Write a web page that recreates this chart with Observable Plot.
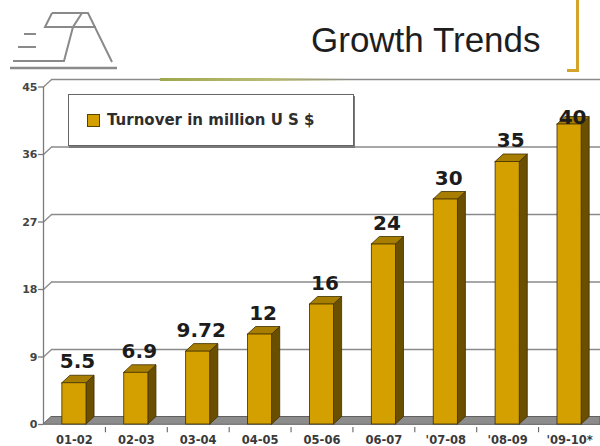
<!DOCTYPE html>
<html>
<head>
<meta charset="utf-8">
<script src="https://cdn.jsdelivr.net/npm/d3@7"></script>
<script src="https://cdn.jsdelivr.net/npm/@observablehq/plot@0.6"></script>
<style>
  html, body { margin: 0; padding: 0; background: #fff; }
  #wrap { position: relative; width: 600px; height: 446px; overflow: hidden; background: #fff; }
  #header { position: relative; width: 600px; height: 72px; }
  #title { position: absolute; left: 311px; top: 22px; font: 35px "Liberation Sans", Arial, sans-serif; color: #1e1e1e; line-height: 35px; white-space: nowrap; }
  #bracket { position: absolute; left: 567px; top: -4px; width: 9px; height: 73px; border-right: 3px solid #d3a32a; border-bottom: 3px solid #d3a32a; }
  #logo { position: absolute; left: 0; top: 0; }
  #greenline { position: absolute; left: 160px; top: 78px; width: 190px; height: 3px; background: linear-gradient(to right, #9da84c, #b8bb74 55%, rgba(190,190,150,0)); z-index: 3; }
  #legend { position: absolute; left: 68px; top: 94px; width: 284px; height: 50px; border: 1px solid #666; box-shadow: 1px 2px 0 #7a7a7a; background: #fff; z-index: 3; }
  #legend .sw { position: absolute; left: 18px; top: 19px; width: 11px; height: 11px; background: #d4a000; border: 1px solid #5a4200; }
  #legend .lt { position: absolute; left: 38px; top: 15px; font: bold 15px "DejaVu Sans", sans-serif; color: #2e2e2e; white-space: nowrap; line-height: 20px; }
  g[aria-label="value-labels"] text { letter-spacing: 0.5px; }
</style>
</head>
<body>
<div id="wrap">
  <div id="header">
    <svg id="logo" width="130" height="75" viewBox="0 0 130 75">
      <g fill="none" stroke="#8a8a8a" stroke-width="2" stroke-linejoin="miter">
        <path d="M52,13 L88,13 L112,62"/>
        <path d="M52,13 L45,27 L96,27"/>
        <path d="M82,13 L73,27 L64,61 L13,61"/>
        <path d="M24,34 L36,34"/>
        <path d="M18,47 L36,47"/>
      </g>
      <path d="M10,68 L117,68" stroke="#8a8a8a" stroke-width="2.5"/>
    </svg>
    <div id="title">Growth Trends</div>
    <div id="bracket"></div>
  </div>
  <div id="chart"></div>
  <div id="greenline"></div>
  <div id="legend"><div class="sw"></div><div class="lt" id="legendText"></div></div>
</div>
<script>
// ---- data ----
const categories = ["01-02", "02-03", "03-04", "04-05", "05-06", "06-07", "'07-08", "'08-09", "'09-10*"];
const turnover = [5.5, 6.9, 9.72, 12, 16, 24, 30, 35, 40];
const valueLabels = ["5.5", "6.9", "9.72", "12", "16", "24", "30", "35", "40"];
const yTicks = [0, 9, 18, 27, 36, 45];
const seriesName = "Turnover in million U S $";

// ---- style constants (3-D look) ----
const HALF = 0.195;     // half bar width, in category units
const DX = 0.13;        // depth offset in x (category units)
const DY = 1;           // depth offset in y (value units)
const LABEL_MAX = 40.1; // labels are kept inside the plot area
const GOLD = "#d4a000", SIDE = "#6b4f00", TOP = "#a87e00", EDGE = "#3d2d00";
const GRID = "#8a8a8a";

document.getElementById("legendText").textContent = seriesName;

const rows = categories.map((category, i) => ({category, i, value: turnover[i], label: valueLabels[i]}));
const sideFaces = rows.flatMap(d => [
  {i: d.i, x: d.i + HALF, y1: 0, y2: d.value},
  {i: d.i, x: d.i + HALF + DX, y1: DY, y2: d.value + DY}
]);
const topFaces = rows.flatMap(d => [
  {i: d.i, y: d.value, x1: d.i - HALF, x2: d.i + HALF},
  {i: d.i, y: d.value + DY, x1: d.i - HALF + DX, x2: d.i + HALF + DX}
]);
const xMin = -0.5, xMax = categories.length - 0.5;
const floor = [
  {y: 0, x1: xMin, x2: xMax},
  {y: DY, x1: xMin + DX, x2: xMax}
];
const boundaries = categories.slice(1).map((c, i) => i + 0.5);
const gridTicks = yTicks.filter(t => t > 0);

const plot = Plot.plot({
  width: 600,
  height: 374,
  marginLeft: 43,
  marginRight: 0,
  marginTop: 14.5,
  marginBottom: 22,
  x: {domain: [xMin, xMax], axis: null},
  y: {domain: [0, 45], axis: null},
  style: {background: "transparent", overflow: "visible", fontFamily: "DejaVu Sans"},
  marks: [
    // back-wall gridlines
    Plot.ruleY(gridTicks, {y: t => t + DY, x1: xMin + DX, x2: xMax, stroke: GRID, strokeWidth: 1.5}),
    // connectors from the axis to the back wall
    Plot.link(gridTicks, {x1: xMin, y1: t => t, x2: xMin + DX, y2: t => t + DY, stroke: GRID, strokeWidth: 1.3}),
    // floor
    Plot.areaX(floor, {y: "y", x1: "x1", x2: "x2", fill: "#8c8c8c", stroke: "#606060", strokeWidth: 1}),
    // y axis line and ticks
    Plot.ruleX([xMin], {y1: 0, y2: 45, stroke: "#7a7a7a", strokeWidth: 1.3}),
    Plot.ruleY(yTicks, {y: t => t, x1: xMin - 0.08, x2: xMin, stroke: "#7a7a7a", strokeWidth: 1.3}),
    Plot.text(yTicks, {x: xMin, y: t => t, text: t => String(t), dx: -6, textAnchor: "end", lineAnchor: "middle", fontSize: 11, fontWeight: "bold", fill: "#444"}),
    // x tick marks and labels
    Plot.ruleX(boundaries, {x: b => b, y1: -0.4, y2: -1.1, stroke: "#555", strokeWidth: 1}),
    Plot.text(rows, {x: "i", y: d => 0, text: "category", dy: 19, textAnchor: "middle", lineAnchor: "bottom", fontSize: 11.5, fontWeight: "bold", fill: "#3a3a3a"}),
    // 3-D bars
    Plot.areaY(sideFaces, {x: "x", y1: "y1", y2: "y2", z: "i", fill: SIDE, stroke: EDGE, strokeWidth: 0.8}),
    Plot.areaX(topFaces, {y: "y", x1: "x1", x2: "x2", z: "i", fill: TOP, stroke: EDGE, strokeWidth: 0.8}),
    Plot.rectY(rows, {x1: d => d.i - HALF, x2: d => d.i + HALF, y1: d => 0, y2: "value", fill: GOLD, stroke: EDGE, strokeWidth: 0.8}),
    // value labels
    Plot.text(rows, {x: "i", y: d => Math.min(d.value + 2, LABEL_MAX), text: "label", dx: 3, textAnchor: "middle", lineAnchor: "bottom", fontSize: 20, fontWeight: "bold", fill: "#1c1c1c", ariaLabel: "value-labels"})
  ]
});
document.getElementById("chart").appendChild(plot);
</script>
</body>
</html>
